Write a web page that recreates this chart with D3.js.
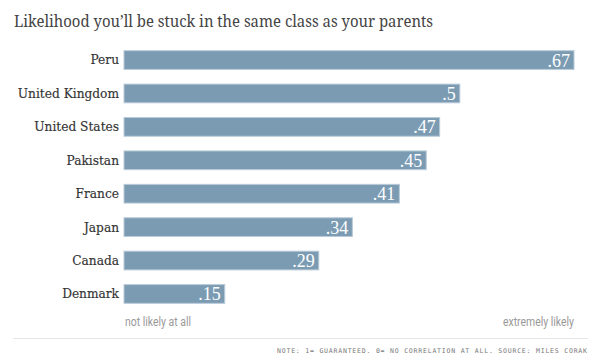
<!DOCTYPE html>
<html><head><meta charset="utf-8">
<script src="https://cdn.jsdelivr.net/npm/d3@7"></script>
<style>body{margin:0;background:#fff}</style>
</head><body><svg id="c" width="600" height="364"></svg>
<script>
const countries = ["Peru","United Kingdom","United States","Pakistan","France","Japan","Canada","Denmark"];
const values = [0.67,0.5,0.47,0.45,0.41,0.34,0.29,0.15];
const valueLabels = [".67",".5",".47",".45",".41",".34",".29",".15"];
const title = "Likelihood you\u2019ll be stuck in the same class as your parents";
const axisLabels = ["not likely at all","extremely likely"];
const note = "NOTE: 1= GUARANTEED. 0= NO CORRELATION AT ALL. SOURCE: MILES CORAK";

const svg = d3.select("#c");
const x = d3.scaleLinear().domain([0,0.67]).range([124,574]);
const y = d3.scaleBand().domain(countries).range([44,310]).paddingInner(0.44).paddingOuter(0.2);

svg.append("text").attr("x",14).attr("y",27).text(title)
  .attr("font-family","Noto Serif, serif").attr("font-size",17).attr("fill","#444")
  .attr("textLength",419).attr("lengthAdjust","spacingAndGlyphs");

const g = svg.append("g");
g.selectAll("rect").data(countries).join("rect")
  .attr("x",x(0)).attr("y",d=>y(d)).attr("width",(d,i)=>x(values[i])-x(0)).attr("height",y.bandwidth())
  .attr("fill","#7b9bb3").attr("stroke","#b9cbd9").attr("stroke-width",1);

g.selectAll("text.cat").data(countries).join("text").attr("class","cat")
  .attr("x",119).attr("y",d=>y(d)+y.bandwidth()/2).attr("dy","0.36em").attr("text-anchor","end")
  .text(d=>d).attr("font-family","DejaVu Serif, serif").attr("font-size",12.2).attr("fill","#333")
  .attr("stroke","#333").attr("stroke-width",0.15);

g.selectAll("text.val").data(countries).join("text").attr("class","val")
  .attr("x",(d,i)=>x(values[i])-4).attr("y",d=>y(d)+y.bandwidth()/2).attr("dy","0.36em").attr("text-anchor","end")
  .text((d,i)=>valueLabels[i]).attr("font-family","Liberation Serif, serif").attr("font-size",18).attr("fill","#fff");

svg.append("text").attr("x",x(0)+1).attr("y",326).text(axisLabels[0])
  .attr("font-family","Roboto, sans-serif").attr("font-size",12.5)
  .attr("textLength",66).attr("lengthAdjust","spacingAndGlyphs").attr("fill","#999");
svg.append("text").attr("x",x(0.67)).attr("y",326).attr("text-anchor","end").text(axisLabels[1])
  .attr("font-family","Roboto, sans-serif").attr("font-size",12.5)
  .attr("textLength",71).attr("lengthAdjust","spacingAndGlyphs").attr("fill","#999");

svg.append("line").attr("x1",13).attr("x2",588).attr("y1",338.5).attr("y2",338.5).attr("stroke","#e6e6e6");

svg.append("text").attr("x",587).attr("y",353).attr("text-anchor","end").text(note)
  .attr("font-family","DejaVu Sans Mono, monospace").attr("font-size",6.5).attr("fill","#777")
  .attr("textLength",310).attr("lengthAdjust","spacing");
</script></body></html>
